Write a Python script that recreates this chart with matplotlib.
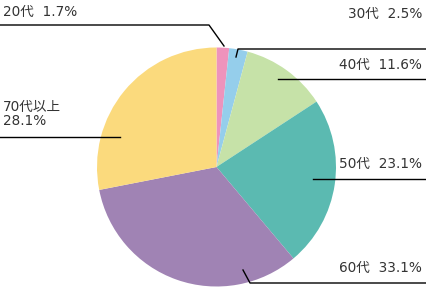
import matplotlib.pyplot as plt

plt.rcParams['font.family'] = ['DejaVu Sans', 'Noto Sans CJK JP']

labels = ['20代', '30代', '40代', '50代', '60代', '70代以上']
shares = [1.7, 2.5, 11.6, 23.1, 33.1, 28.1]
colors = ['#EE93BC', '#95CEEB', '#C6E2A8', '#5BBAB1', '#A083B4', '#FBDA7D']

W, H = 427, 288
fig = plt.figure(figsize=(W / 100, H / 100), dpi=100)
ax = fig.add_axes([0, 0, 1, 1])
ax.axis('off')


def py(y):
    # pixel row (top = 0) to data y
    return H - y


ax.pie(shares, colors=colors, startangle=90, counterclock=False,
       center=(216.5, py(167)), radius=119.5,
       wedgeprops=dict(linewidth=0))
ax.set_xlim(0, W)
ax.set_ylim(0, H)
ax.set_aspect('auto')

tc = '#333333'
fs = 9.8
txt = [f'{l}  {v}%' for l, v in zip(labels, shares)]

# leader lines: polylines in pixel coords
lines = [
    [(0, 25), (209, 25), (224, 46)],
    [(236, 57), (238, 49), (427, 49)],
    [(278, 79), (427, 79)],
    [(313, 179), (427, 179)],
    [(243, 270), (250, 283), (427, 283)],
    [(0, 137), (120, 137)],
]
for pts in lines:
    ax.plot([p[0] for p in pts], [py(p[1]) for p in pts], color='black', lw=1)

ax.text(3, py(12), txt[0], ha='left', va='center', fontsize=fs, color=tc)
ax.text(422, py(14), txt[1], ha='right', va='center', fontsize=fs, color=tc)
ax.text(422, py(65), txt[2], ha='right', va='center', fontsize=fs, color=tc)
ax.text(422, py(164), txt[3], ha='right', va='center', fontsize=fs, color=tc)
ax.text(422, py(268), txt[4], ha='right', va='center', fontsize=fs, color=tc)
ax.text(3, py(114), f'{labels[5]}\n{shares[5]}%', ha='left', va='center',
        fontsize=fs, color=tc, linespacing=1.05)

fig.savefig('out.png', dpi=100)
